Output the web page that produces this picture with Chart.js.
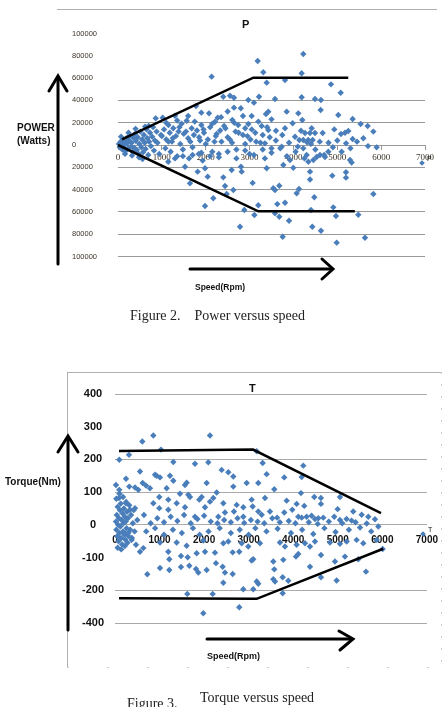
<!DOCTYPE html>
<html>
<head>
<meta charset="utf-8">
<script src="https://cdn.jsdelivr.net/npm/chart.js@4"></script>
<style>
  body { margin: 0; width: 447px; height: 707px; position: relative; overflow: hidden; background: #fff; font-family: 'Liberation Sans', Arial, sans-serif; }
  canvas { position: absolute; left: 0; }
  .t { position: absolute; white-space: nowrap; color: #111; line-height: 1; }
  .b { font-weight: bold; }
  .cap { font-family: 'Liberation Serif', 'Times New Roman', serif; font-size: 14px; color: #222; }
  .dia { position: absolute; width: 4px; height: 4px; background: #4a7ebb; transform: rotate(45deg); }
  .line { position: absolute; background: #b0b0b0; }
  svg { position: absolute; left: 0; top: 0; pointer-events: none; }
</style>
</head>
<body>

<div class="line" style="left:57px;top:9px;width:380px;height:1px;"></div>
<div class="line" style="left:67px;top:372px;width:374px;height:1px;"></div>
<div class="line" style="left:67px;top:372px;width:1px;height:296px;"></div>
<div class="line" style="left:441px;top:372px;width:1px;height:296px;background:repeating-linear-gradient(#ccc 0 2px, transparent 2px 12px);"></div>
<div class="line" style="left:67px;top:667px;width:374px;height:1px;background:repeating-linear-gradient(90deg,#ccc 0 2px, transparent 2px 40px);"></div>

<canvas id="pChart" width="447" height="300" style="top:0"></canvas>
<canvas id="tChart" width="447" height="300" style="top:360px"></canvas>

<div class="t b" style="left:242px;top:19px;font-size:11px;">P</div>
<div class="t b" style="left:17px;top:123px;font-size:10px;">POWER</div>
<div class="t b" style="left:17px;top:136px;font-size:10px;">(Watts)</div>
<div class="dia" style="left:420px;top:161px;"></div>
<div class="t" style="left:427px;top:155px;font-size:7px;">P</div>
<div class="t b" style="left:195px;top:283px;font-size:8.5px;">Speed(Rpm)</div>
<div class="t cap" style="left:130px;top:309px;">Figure 2.&nbsp;&nbsp;&nbsp; Power versus speed</div>

<div class="t b" style="left:249px;top:383px;font-size:11px;">T</div>
<div class="t b" style="left:5px;top:477px;font-size:10px;">Torque(Nm)</div>
<div class="dia" style="left:421px;top:532px;"></div>
<div class="t" style="left:428px;top:526px;font-size:7px;">T</div>
<div class="t b" style="left:207px;top:652px;font-size:9px;">Speed(Rpm)</div>
<div class="t cap" style="left:127px;top:697px;">Figure 3.</div>
<div class="t cap" style="left:200px;top:691px;">Torque versus speed</div>

<svg width="447" height="707">
  <g stroke="#000" stroke-width="3" fill="none" stroke-linecap="round">
    <line x1="58" y1="264" x2="58" y2="78"/>
    <polyline points="49,91 58,76 67,91"/>
    <line x1="190" y1="269" x2="331" y2="269"/>
    <polyline points="322,259 333,269 322,279"/>
    <line x1="68" y1="630" x2="68" y2="438"/>
    <polyline points="58,452 68,436 78,452"/>
    <line x1="207" y1="639" x2="350" y2="639"/>
    <polyline points="339,631 353,639 340,650"/>
  </g>
</svg>

<script>
const pointColor = '#4a7ebb';

// Power (W) versus speed (rpm)
const pYValues = [100000, 80000, 60000, 40000, 20000, 0, -20000, -40000, -60000, -80000, -100000];
const pYLabels = ['100000', '80000', '60000', '40000', '20000', '0', '20000', '40000', '60000', '80000', '100000'];
const pXLabels = ['0', '1000', '2000', '3000', '4000', '5000', '6000', '7000'];
const pUpperEnvelope = [[90, 5000], [3085, 60400], [5250, 60400]];
const pLowerEnvelope = [[0, 0], [3200, -59500], [5400, -59500]];
const powerPoints = [
  [20,1000],[40,-2000],[60,3000],[80,500],[100,-4000],[110,5000],[130,-1000],[150,2500],[170,-5500],[190,6000],
  [210,1500],[230,-3000],[250,4000],[270,8000],[290,-1500],[310,2000],[330,-6000],[350,6500],[370,-2500],[390,10000],
  [410,3500],[430,-4500],[450,7000],[470,-8000],[490,1000],[510,12000],[530,-2000],[550,5000],[570,-6500],[590,9000],
  [610,2000],[630,-3500],[650,14000],[670,6000],[690,-9000],[710,3000],[730,11000],[750,-1000],[780,7500],[800,16000],
  [820,-5000],[840,4000],[70,7500],[160,-8000],[240,11000],[320,-9500],[400,14500],[480,-11000],[560,-12500],[620,16500],
  [860,23900],[880,12000],[900,2000],[940,-8000],[980,9000],[1019,24500],[1050,14000],[1080,-3000],[1100,5000],[1150,18000],
  [1180,11000],[1200,-6000],[1230,3000],[1260,15000],[1300,26300],[1320,8000],[1350,-10000],[1380,12000],[1420,1000],[1450,19000],
  [1480,-4000],[1500,10000],[1566,21800],[1600,6000],[1620,-12000],[1680,15000],[1700,-2000],[1730,9000],[1778,35000],[1800,13000],
  [1840,-8000],[1870,4000],[1900,18000],[1930,-14000],[1960,11000],[2000,1000],[2075,28400],[2100,16000],[2135,61300],[2150,-6000],
  [2212,20900],[2230,8000],[2273,24500],[2300,-11000],[2330,13000],[2360,3000],[2400,43300],[2420,17000],[2500,7000],[2554,44200],
  [2606,22400],[2645,42400],[2645,33500],[2680,12000],[2700,-4000],[2740,18000],[2850,9000],[2900,15000],[2972,40400],[2972,18800],
  [3000,-8000],[3020,5000],[3048,26000],[3130,11000],[3185,75300],[3215,43300],[3250,2000],[3276,17000],[3313,65200],[3350,-12000],
  [3374,27800],[3390,55900],[3427,29900],[3427,13500],[3460,7000],[3500,-3000],
  [700,17000],[1000,8000],[1100,20000],[1250,6000],[1400,16000],[1550,12000],[1650,3000],[1750,21000],[1850,7000],[1950,14000],
  [2050,5000],[2150,19000],[2250,10000],[2350,25000],[2450,15000],[2550,5000],[2650,20000],[2750,11000],[2850,26000],[2950,8000],
  [3050,14000],[3150,3000],[3200,21000],[3300,9000],[3400,16000],[3500,23000],[1150,3000],[1350,22000],[1600,26000],[1900,29000],
  [2200,3000],[2500,30000],[2800,33000],[3100,38000],[2600,2000],[2900,1000],[3350,1500],
  [3808,58300],[4225,81600],[4188,64300],[4856,54400],[5078,46900],[3580,41300],[4188,42800],[4492,41300],[4628,40400],[4621,31400],
  [3846,29900],[4111,28400],[5023,26900],[5350,23300],[4202,22400],[3982,19500],[5533,18800],[5693,17000],[5822,12000],[3602,12800],
  [3808,15000],[3746,9000],[4036,7400],[4172,12800],[4416,15000],[4264,10700],[4378,10700],[4492,10700],[4667,10700],[4932,14000],
  [5084,9900],[5176,11000],[5251,12600],[5350,5400],[5594,6000],[4134,4500],[4225,4500],[4339,4500],[4438,4500],[3732,-1500],
  [3600,4000],[3900,2000],[4100,-1500],[4400,1000],[4600,3000],[4800,2000],[5000,4000],[5200,1500],[5450,3000],[5700,-1000],
  [4225,-3000],[4310,2500],
  [1528,-19500],[1641,-34400],[1984,-54700],[2173,-47800],[2045,-28400],[1816,-23900],[1984,-20900],[2440,-36800],[2478,-44000],[2401,-29000],
  [2630,-40400],[2782,-73300],[2804,-19500],[2820,-23900],[2592,-22400],[2880,-58300],[3070,-34000],[3110,-62800],[3199,-54000],[3390,-20900],
  [3541,-38800],[3580,-40400],[3678,-36500],[3580,-61300],[3678,-64300],[3632,-53000],[3808,-51800],[3755,-82300],[3900,-67900],[3997,-20500],
  [4074,-43300],[4127,-39500],[4378,-23900],[4378,-31000],[4400,-58300],[4430,-73300],[4476,-46900],[4628,-76900],[4886,-27500],[4909,-55900],
  [4970,-63700],[4986,-87600],[5198,-24500],[5198,-29300],[5479,-62500],[5631,-83200],[5822,-44000],[5897,-2100],
  [1147,-15000],[1300,-12000],[1480,-10000],[1700,-9000],[1900,-7000],[2100,-10000],[2300,-8000],[2500,-6000],[2700,-12000],[2900,-5000],
  [3100,-9000],[3300,-4000],[3500,-7000],[3700,-3000],[3850,-10000],[4050,-6000],[4250,-12000],[4500,-4000],[4700,-9000],[4900,-2000],
  [5100,-6000],[5300,-3000],[4302,-9000],[4340,-15000],[4454,-13500],[4530,-10700],[4606,-9000],[4720,-10700],[4796,-6000],[5290,-13500],
  [5328,-15700],[3770,-18000],[3922,-13500]
];

// Torque (Nm) versus speed (rpm)
const tYValues = [400, 300, 200, 100, 0, -100, -200, -300];
const tYLabels = ['400', '300', '200', '100', '0', '-100', '-200', '-400'];
const tXLabels = ['0', '1000', '2000', '3000', '4000', '5000', '6000', '7000'];
const tUpperEnvelope = [[90, 226], [3100, 230], [5970, 36]];
const tLowerEnvelope = [[90, -224], [3180, -226], [6020, -73]];
const torquePoints = [
  [20,10],[30,-15],[40,30],[50,-35],[60,55],[70,0],[80,-50],[90,20],[100,-25],[110,45],
  [120,-5],[130,65],[140,-40],[150,15],[160,-60],[170,35],[180,-20],[190,5],[200,50],[210,-30],
  [220,25],[230,-45],[240,10],[250,70],[260,-10],[270,40],[280,-55],[290,20],[300,-25],[320,60],
  [340,-15],[360,30],[380,-40],[400,5],[420,45],[440,-20],[30,80],[60,-70],[100,95],[140,-75],
  [180,85],[220,-65],
  [860,273],[613,255],[2132,273],[1032,230],[314,214],[96,199],[1309,192],[1795,187],[2094,191],[3314,189],
  [561,163],[935,150],[1010,145],[1234,150],[1309,135],[2394,168],[2543,161],[2655,148],[3404,155],[247,141],
  [22,122],[96,107],[321,117],[449,114],[523,107],[621,128],[696,120],[785,112],[1160,112],[1571,122],
  [1609,129],[2057,128],[2655,117],[2955,128],[3216,128],[3366,82],[3067,77],[90,82],[247,66],[337,46],
  [449,51],[860,66],[994,85],[994,51],[1196,77],[1196,46],[1384,66],[1459,95],[1645,92],[1683,85],
  [1892,77],[1945,85],[1571,54],[1795,25],[2020,54],[2132,71],[2206,82],[2282,99],[2431,66],[2468,38],
  [2319,25],[2731,61],[2880,54],[2670,41],[2880,25],[3090,56],[3216,41],[3292,31],[3180,225],[898,153],
  [4226,181],[3799,145],[4190,146],[3575,109],[4174,97],[4473,85],[4622,82],[3853,74],[5049,85],[4077,64],
  [4248,58],[4622,64],[3478,41],[3799,38],[3979,46],[4997,48],[5347,41],[5536,31],[5685,25],[5835,17],
  [4114,25],[4190,22],[4301,25],[4413,28],[4489,18],[4563,20],[4675,22],[4921,25],[5049,15],[5197,18],
  [5311,13],[3530,20],[3639,22],[5910,-5],
  [500,15],[650,30],[800,5],[950,20],[1100,8],[1250,25],[1400,12],[1550,30],[1700,5],[1850,18],
  [2000,28],[2150,10],[2300,5],[2450,15],[2600,8],[2750,20],[2900,6],[3050,15],[3200,10],[3350,5],
  [3700,8],[3900,12],[4050,5],[4350,8],[4550,3],[4800,10],[5100,5],[5400,8],[5650,4],
  [1982,-270],[2789,-252],[1623,-211],[2192,-211],[2879,-197],[3103,-197],[3763,-209],[2431,-177],[3180,-173],[3216,-180],
  [3553,-166],[3591,-173],[3889,-171],[3763,-160],[4623,-160],[4975,-170],[5633,-143],[725,-151],[1010,-132],[1219,-138],
  [1219,-105],[1481,-129],[1668,-125],[1818,-135],[1870,-146],[2057,-138],[2266,-117],[2416,-128],[2468,-146],[2641,-150],
  [1481,-95],[1631,-99],[1833,-87],[2020,-82],[2244,-85],[2641,-84],[2789,-82],[3067,-109],[3103,-105],[3553,-112],
  [3777,-107],[3575,-136],[4062,-97],[4114,-89],[4376,-128],[4623,-92],[4937,-112],[5161,-97],[5460,-105],[6007,-74],
  [561,-82],[636,-71],[471,-61],[374,-46],[299,-34],[224,-25],[1196,-82],[1010,-54],[1384,-54],[1608,-64],
  [1982,-48],[2431,-56],[2543,-51],[2991,-66],[2843,-56],[3254,-56],[3703,-54],[3815,-66],[4077,-61],[4264,-56],
  [4376,-66],[4488,-51],[4825,-54],[5049,-58],[5200,-51],[5423,-46],[5572,-56],[5873,-46],
  [700,-20],[900,-10],[1100,-30],[1300,-15],[1500,-25],[1750,-10],[1900,-30],[2100,-20],[2350,-10],[2600,-25],
  [2800,-15],[3000,-30],[3150,-10],[3400,-20],[3650,-12],[3950,-25],[4200,-15],[4450,-28],[4700,-10],[4950,-22],
  [5250,-15],[5500,-8],[5750,-20]
];

const toXY = list => list.map(([x, y]) => ({ x, y }));

const scatterSet = points => ({
  data: toXY(points),
  pointStyle: 'rectRot',
  pointRadius: 3.2,
  backgroundColor: pointColor,
  borderColor: pointColor,
  borderWidth: 0,
  clip: false,
  order: 2
});

const envelopeSet = points => ({
  data: toXY(points),
  showLine: true,
  borderColor: '#000',
  borderWidth: 2.5,
  pointRadius: 0,
  clip: false,
  order: 1
});

const pChart = new Chart(document.getElementById('pChart'), {
  type: 'scatter',
  data: {
    datasets: [scatterSet(powerPoints), envelopeSet(pUpperEnvelope), envelopeSet(pLowerEnvelope)]
  },
  options: {
    responsive: false,
    animation: false,
    devicePixelRatio: 1,
    layout: { padding: { left: 72, right: 22, top: 33.5, bottom: 43.5 } },
    plugins: { legend: { display: false }, tooltip: { enabled: false } },
    scales: {
      x: {
        type: 'linear',
        min: 0,
        max: 7000,
        position: { y: 0 },
        afterFit: scale => { scale.height = 0; },
        ticks: {
          stepSize: 1000,
          autoSkip: false,
          maxRotation: 0,
          padding: 3,
          color: '#3a3328',
          font: { size: 9, family: 'Liberation Serif' },
          callback: (value, index) => pXLabels[index]
        },
        grid: { drawOnChartArea: false, tickLength: 4, color: '#999' },
        border: { display: true, color: '#999' }
      },
      y: {
        min: -100000,
        max: 100000,
        afterFit: scale => { scale.width = 46; },
        ticks: {
          stepSize: 20000,
          crossAlign: 'far',
          color: '#3a3328',
          font: { size: 7.5, family: 'Liberation Sans' },
          callback: value => pYLabels[pYValues.indexOf(value)]
        },
        grid: {
          drawTicks: false,
          color: ctx => ctx.tick && ctx.tick.value > 40000 ? 'rgba(0,0,0,0)' : '#999'
        },
        border: { display: false }
      }
    }
  }
});

const tChart = new Chart(document.getElementById('tChart'), {
  type: 'scatter',
  data: {
    datasets: [scatterSet(torquePoints), envelopeSet(tUpperEnvelope), envelopeSet(tLowerEnvelope)]
  },
  options: {
    responsive: false,
    animation: false,
    devicePixelRatio: 1,
    layout: { padding: { left: 0, right: 20, top: 34, bottom: 37 } },
    plugins: { legend: { display: false }, tooltip: { enabled: false } },
    scales: {
      x: {
        type: 'linear',
        min: 0,
        max: 7000,
        position: { y: 0 },
        afterFit: scale => { scale.height = 0; },
        ticks: {
          stepSize: 1000,
          autoSkip: false,
          maxRotation: 0,
          padding: 9,
          color: '#111',
          font: { size: 10, weight: 'bold' },
          callback: (value, index) => tXLabels[index]
        },
        grid: { drawOnChartArea: false, drawTicks: false },
        border: { display: true, color: '#aaa' }
      },
      y: {
        min: -300,
        max: 400,
        afterFit: scale => { scale.width = 115; },
        ticks: {
          stepSize: 100,
          crossAlign: 'center',
          padding: 11,
          color: '#111',
          font: { size: 11, weight: 'bold' },
          callback: value => tYLabels[tYValues.indexOf(value)]
        },
        grid: {
          drawTicks: false,
          color: ctx => ctx.tick && (ctx.tick.value === 300 || ctx.tick.value === -100) ? 'rgba(0,0,0,0)' : '#aaa'
        },
        border: { display: false }
      }
    }
  }
});
</script>
</body>
</html>
